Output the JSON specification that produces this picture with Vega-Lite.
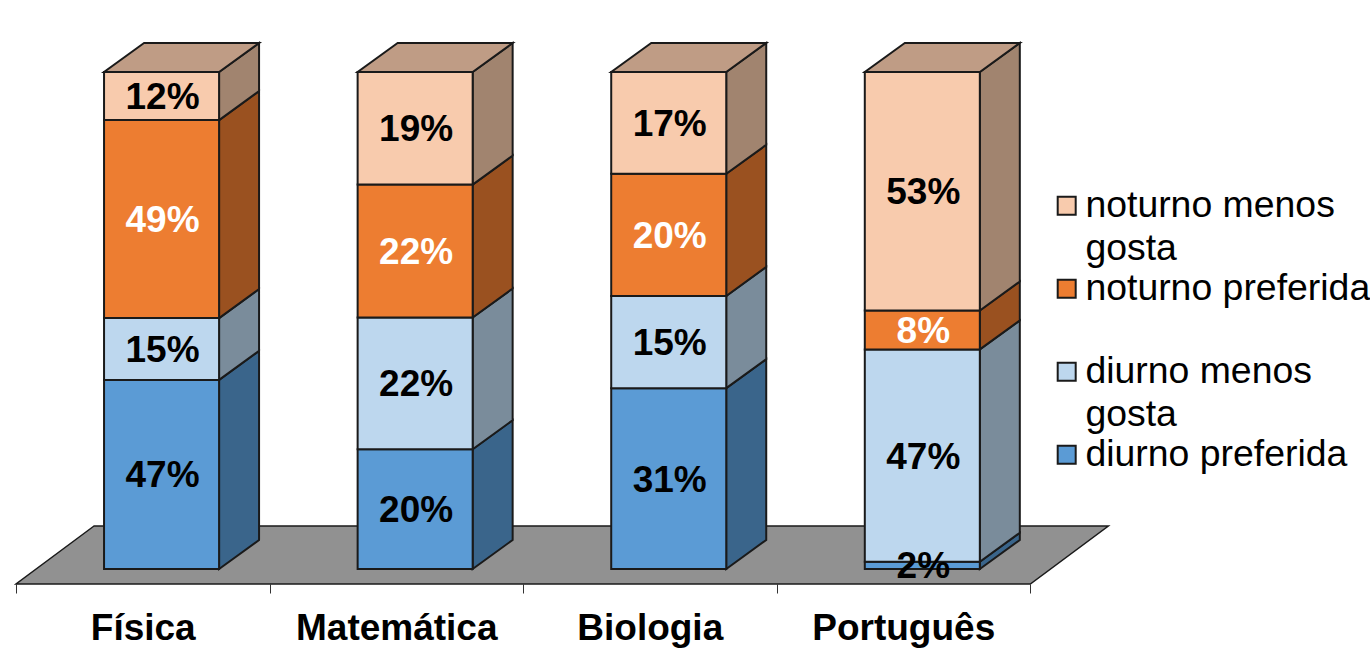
{
"$schema":"https://vega.github.io/schema/vega-lite/v6.json",
"width":1370,"height":584,
"autosize":"none",
"padding":{"left":0,"top":0,"right":0,"bottom":77},
"background":"white",
"config":{"view":{"stroke":null},"font":"Liberation Sans"},
"datasets":{"scores":[
{"subject":"Física","series":"diurno preferida","share":46.8,"shown":47},
{"subject":"Física","series":"diurno menos gosta","share":15.3,"shown":15},
{"subject":"Física","series":"noturno preferida","share":49,"shown":49},
{"subject":"Física","series":"noturno menos gosta","share":11.9,"shown":12},
{"subject":"Matemática","series":"diurno preferida","share":20,"shown":20},
{"subject":"Matemática","series":"diurno menos gosta","share":22,"shown":22},
{"subject":"Matemática","series":"noturno preferida","share":22.2,"shown":22},
{"subject":"Matemática","series":"noturno menos gosta","share":18.8,"shown":19},
{"subject":"Biologia","series":"diurno preferida","share":30.2,"shown":31},
{"subject":"Biologia","series":"diurno menos gosta","share":15.4,"shown":15},
{"subject":"Biologia","series":"noturno preferida","share":20.4,"shown":20},
{"subject":"Biologia","series":"noturno menos gosta","share":17,"shown":17},
{"subject":"Português","series":"diurno preferida","share":1.6,"shown":2},
{"subject":"Português","series":"diurno menos gosta","share":47,"shown":47},
{"subject":"Português","series":"noturno preferida","share":8.6,"shown":8},
{"subject":"Português","series":"noturno menos gosta","share":52.8,"shown":53}
],"floor":[{"depth":0},{"depth":1}]},
"layer":[
{"layer":[
 {"data":{"name":"floor"},
  "transform":[{"calculate":"-0.0302+datum.depth*0.1167","as":"fy"},{"calculate":"datum.depth*0.3076","as":"fx0"},{"calculate":"4+datum.depth*0.3076","as":"fx1"}],
  "mark":{"type":"area","orient":"horizontal","fill":"#919191","stroke":"#1a1a1a","strokeWidth":1.5},
  "encoding":{
   "y":{"field":"fy","type":"quantitative","scale":{"domain":[-0.0302,1.1449],"range":[584,0],"nice":false,"zero":false},"axis":null},
   "x":{"field":"fx0","type":"quantitative","scale":{"domain":[-0.0631,5.3],"range":[0,1360],"nice":false,"zero":false},"axis":{"orient":"bottom","values":[0,1,2,3,4],"labels":false,"grid":false,"domain":false,"ticks":true,"tickSize":9,"tickColor":"#333333","tickWidth":1,"title":null}},
   "x2":{"field":"fx1"}}},
 {"data":{"name":"scores"},
  "transform":[
   {"calculate":"indexof(['diurno preferida','diurno menos gosta','noturno preferida','noturno menos gosta'],datum.series)","as":"order"},
   {"calculate":"indexof(['Física','Matemática','Biologia','Português'],datum.subject)+0.574","as":"cx"},
   {"stack":"share","groupby":["subject"],"sort":[{"field":"order","order":"ascending"}],"offset":"normalize","as":["v0","v1"]}
  ],
  "layer":[
   {"transform":[{"calculate":"0","as":"d0"},{"calculate":"1","as":"d1"},{"fold":["d0","d1"],"as":["dk","depth"]},
     {"calculate":"datum.cx+0.2268+datum.depth*0.1577","as":"sx"},{"calculate":"datum.v0+datum.depth*0.0584","as":"sy0"},{"calculate":"datum.v1+datum.depth*0.0584","as":"sy1"}],
    "mark":{"type":"area","stroke":"#1a1a1a","strokeWidth":2},
    "encoding":{
     "x":{"field":"sx","type":"quantitative"},
     "y":{"field":"sy0","type":"quantitative"},
     "y2":{"field":"sy1"},
     "detail":{"field":"subject"},
     "color":{"field":"series","type":"nominal","legend":null,"scale":{"domain":["noturno menos gosta","noturno preferida","diurno menos gosta","diurno preferida"],"range":["#a1846f","#9a5120","#7a8c9b","#3a658b"]}}}},
   {"transform":[{"filter":"datum.series==='noturno menos gosta'"},{"calculate":"0","as":"d0"},{"calculate":"1","as":"d1"},{"fold":["d0","d1"],"as":["dk","depth"]},
     {"calculate":"datum.cx-0.2268+datum.depth*0.1577","as":"tx0"},{"calculate":"datum.cx+0.2268+datum.depth*0.1577","as":"tx1"},{"calculate":"datum.v1+datum.depth*0.0584","as":"ty"}],
    "mark":{"type":"area","orient":"horizontal","fill":"#bf9c85","stroke":"#1a1a1a","strokeWidth":2},
    "encoding":{
     "y":{"field":"ty","type":"quantitative"},
     "x":{"field":"tx0","type":"quantitative"},
     "x2":{"field":"tx1"},
     "detail":{"field":"subject"}}},
   {"transform":[{"calculate":"datum.cx-0.2268","as":"x0"},{"calculate":"datum.cx+0.2268","as":"x1"}],
    "mark":{"type":"rect","stroke":"#1a1a1a","strokeWidth":2},
    "encoding":{
     "x":{"field":"x0","type":"quantitative"},
     "x2":{"field":"x1"},
     "y":{"field":"v0","type":"quantitative"},
     "y2":{"field":"v1"},
     "color":{"field":"series","type":"nominal","scale":{"domain":["noturno menos gosta","noturno preferida","diurno menos gosta","diurno preferida"],"range":["#f8cbad","#ed7d31","#bdd7ee","#5b9bd5"]},
      "legend":{"orient":"none","legendX":1048,"legendY":187,"title":null,"symbolType":"square","symbolSize":324,"symbolStrokeColor":"#1a1a1a","symbolStrokeWidth":2,"labelFontSize":37.4,"labelFont":"Liberation Sans","labelColor":"black","labelLimit":400,"labelOffset":0,"rowPadding":1,"gridAlign":"all","encoding":{"labels":{"lineHeight":{"value":43}}},"labelExpr":"datum.label==='noturno menos gosta'?['noturno menos','gosta']:datum.label==='diurno menos gosta'?['diurno menos','gosta']:datum.label"}}}},
   {"transform":[{"calculate":"(datum.v0+datum.v1)/2","as":"mid"},{"calculate":"datum.shown+'%'","as":"label"}],
    "mark":{"type":"text","fontSize":37,"fontWeight":"bold","font":"Liberation Sans","baseline":"middle","align":"center","dy":2,"dx":1},
    "encoding":{
     "x":{"field":"cx","type":"quantitative"},
     "y":{"field":"mid","type":"quantitative"},
     "text":{"field":"label"},
     "fill":{"field":"series","type":"nominal","legend":null,"scale":{"domain":["noturno menos gosta","noturno preferida","diurno menos gosta","diurno preferida"],"range":["#000000","#ffffff","#000000","#000000"]}}}}
  ],
  "resolve":{"scale":{"color":"independent","fill":"independent"}}}
 ]},
{"data":{"name":"scores"},
 "mark":{"type":"text","opacity":0,"text":""},
 "encoding":{
  "x":{"field":"subject","type":"nominal","sort":["Física","Matemática","Biologia","Português"],"scale":{"range":[16,1030],"paddingInner":0,"paddingOuter":0},
   "axis":{"orient":"bottom","title":null,"ticks":false,"domain":false,"grid":false,"labelAngle":0,"labelFontSize":37,"labelFontWeight":"bold","labelFont":"Liberation Sans","labelColor":"black","labelPadding":44,"labelBaseline":"middle","labelLimit":400}}}}
],
"resolve":{"scale":{"x":"independent"}}
}
